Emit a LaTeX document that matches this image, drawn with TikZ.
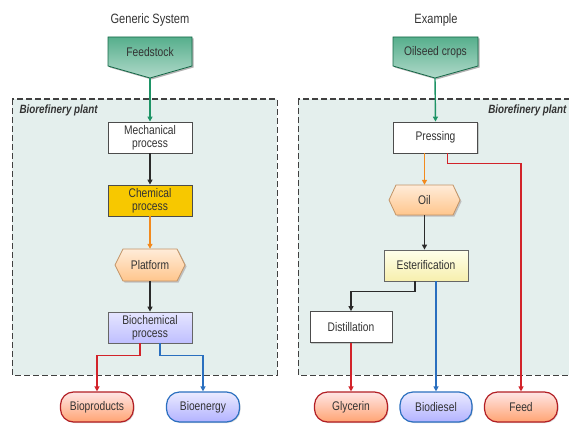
\documentclass[tikz,border=0pt]{standalone}
\usepackage{fontspec}
\setmainfont{Liberation Sans}[FakeStretch=0.82]
\usetikzlibrary{arrows.meta,shadows}
\definecolor{plantbg}{HTML}{E4EFED}
\definecolor{gline}{HTML}{1E9466}
\definecolor{oline}{HTML}{F28A1E}
\definecolor{rline}{HTML}{D2232A}
\definecolor{bline}{HTML}{2A6FBF}
\definecolor{kline}{HTML}{2A2A2A}
\definecolor{yel}{HTML}{F7C800}
\begin{document}
\begin{tikzpicture}[x=1pt,y=-1pt,
  txt/.style={font=\fontsize{12.5}{13}\selectfont,align=center,text=black!80},
  title/.style={font=\fontsize{13.5}{15}\selectfont,text=black!80},
  boxw/.style={txt,draw=black!70,line width=0.8pt,minimum width=84pt,minimum height=31pt,inner sep=1pt,
     drop shadow={shadow xshift=1pt,shadow yshift=-1pt,opacity=0.35}},
  pill/.style={txt,rounded corners=13pt,line width=1.2pt,minimum width=73pt,minimum height=30pt,inner sep=1pt,
     drop shadow={shadow xshift=1pt,shadow yshift=-1pt,opacity=0.3}},
  redpill/.style={pill,draw=rline!85!black,top color=red!10!white,bottom color=red!30!orange!55!white},
  bluepill/.style={pill,draw=bline,top color=blue!8!white,bottom color=blue!30!white},
  plant/.style={draw=black!75,line width=1pt,dash pattern=on 6pt off 3pt,fill=plantbg},
  planttxt/.style={font=\fontsize{12}{13}\selectfont\bfseries\itshape,text=black!80},
  feedshape/.style={draw=gline!70!black,line width=0.8pt,top color=gline!75!white,bottom color=gline!35!white},
  hexshape/.style={draw=orange!60!black!60,line width=0.8pt,top color=orange!15!white,bottom color=orange!45!white},
  arr/.style={line width=1.4pt,-{Triangle[length=5pt,width=5pt]}},
]
\useasboundingbox (0,0) rectangle (569,425);

% plant areas
\draw[plant] (12,99) rectangle (277,375);
\draw[plant] (298,99) rectangle (572,375);
\node[planttxt,anchor=west] at (16,110) {Biorefinery plant};
\node[planttxt,anchor=east] at (570,110) {Biorefinery plant};

% titles
\node[title] (t1) at (150,20) {Generic System};
\node[title] (t2) at (436,20) {Example};

% ---------- left ----------
\fill[black!30] (109.5,38.5) -- (193.5,38.5) -- (193.5,67.5) -- (151.5,79.5) -- (109.5,67.5) -- cycle;
\draw[feedshape] (108,37) -- (192,37) -- (192,66) -- (150,78) -- (108,66) -- cycle;
\node[txt] (feedstock) at (150,52) {Feedstock};
\coordinate (feedtip) at (150,78);

\node[boxw,fill=white] (mech) at (150,137.5) {Mechanical\\process};
\node[boxw,fill=yel] (chem) at (150,200.5) {Chemical\\process};

\fill[black!25] (116.5,266.5) -- (124.5,250.5) -- (178.5,250.5) -- (186.5,266.5) -- (178.5,282.5) -- (124.5,282.5) -- cycle;
\draw[hexshape] (115,265) -- (123,249) -- (177,249) -- (185,265) -- (177,281) -- (123,281) -- cycle;
\node[txt,minimum width=70pt,minimum height=32pt] (plat) at (150,265) {Platform};

\node[boxw,top color=blue!10!white,bottom color=blue!25!white,draw=black!60] (bioc) at (150,327.5) {Biochemical\\process};

\node[redpill] (bprod) at (97,407) {Bioproducts};
\node[bluepill] (benergy) at (203,407) {Bioenergy};

\draw[arr,gline] (feedtip) -- (mech.north);
\draw[arr,kline] (mech) -- (chem);
\draw[arr,oline] (chem) -- (plat);
\draw[arr,kline] (plat) -- (bioc);
\draw[arr,rline] ([xshift=-10pt]bioc.south) -- ++(0,12) -| (bprod.north);
\draw[arr,bline] ([xshift=10pt]bioc.south) -- ++(0,12) -| (benergy.north);

% ---------- right ----------
\fill[black!30] (394.5,38.5) -- (479.5,38.5) -- (479.5,67.5) -- (436.5,79.5) -- (394.5,67.5) -- cycle;
\draw[feedshape] (393,37) -- (478,37) -- (478,66) -- (435,78) -- (393,66) -- cycle;
\node[txt] (oilseed) at (435.5,52) {Oilseed crops};
\coordinate (oiltip) at (435,78);

\node[boxw,fill=white] (press) at (435.5,137.5) {Pressing};

\fill[black!25] (390.5,201.5) -- (397.5,187.5) -- (454.5,187.5) -- (461.5,201.5) -- (454.5,216.5) -- (397.5,216.5) -- cycle;
\draw[hexshape] (389,200) -- (396,185) -- (453,185) -- (460,200) -- (453,215) -- (396,215) -- cycle;
\node[txt,minimum width=71pt,minimum height=30pt] (oil) at (424.5,200) {Oil};

\node[boxw,top color=yellow!8!white,bottom color=brown!35!yellow!35!white,draw=black!60] (ester) at (426,265.5) {Esterification};
\node[boxw,fill=white,minimum width=82pt] (dist) at (351,327) {Distillation};

\node[redpill] (glyc) at (351,407) {Glycerin};
\node[bluepill,minimum width=72pt] (biod) at (436,407) {Biodiesel};
\node[redpill] (feedn) at (521,407) {Feed};

\draw[arr,gline] (oiltip) -- (press.north);
\draw[arr,oline] (press.south -| oil.north) -- (oil.north);
\draw[arr,rline] ([xshift=12pt]press.south) -- ++(0,10) -| (feedn.north);
\draw[arr,kline] (oil.south) -- (oil.south |- ester.north);
\draw[arr,kline] ([xshift=-11pt]ester.south) -- ++(0,10) -| (dist.north);
\draw[arr,bline] (ester.south -| biod.north) -- (biod.north);
\draw[arr,rline] (dist) -- (glyc);
\end{tikzpicture}
\end{document}
